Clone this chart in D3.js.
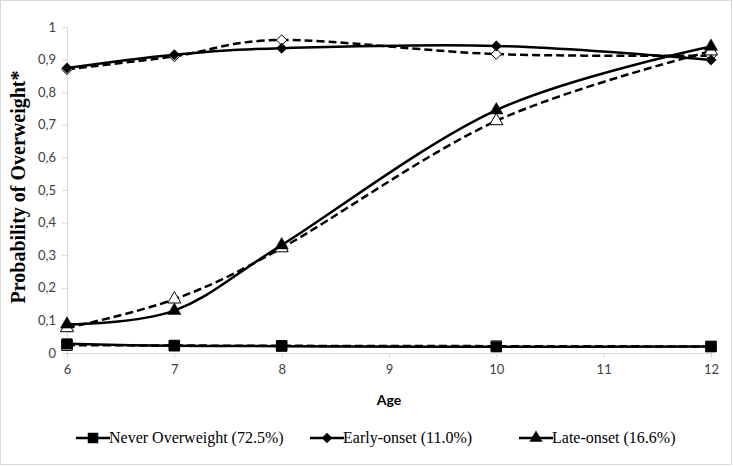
<!DOCTYPE html>
<html lang="en">
<head>
<meta charset="utf-8">
<title>Probability of Overweight</title>
<script src="https://cdn.jsdelivr.net/npm/d3@7"></script>
<style>
  body { margin: 0; background: #fff; }
  .tick text { font-family: Lato, "Liberation Sans", sans-serif; font-size: 13px; fill: #404040; }
  .legend text { font-family: "Liberation Serif", serif; font-size: 16px; fill: #000; }
</style>
</head>
<body>
<svg width="733" height="466"></svg>
<script>
// ages at which the probability was estimated
var ages = [6, 7, 8, 10, 12];

// solid = observed (filled markers), dashed = estimated (open markers)
var neverSolid  = [0.028, 0.022, 0.021, 0.019, 0.020];
var neverDashed = [0.024, 0.023, 0.022, 0.021, 0.020];
var earlySolid  = [0.874, 0.915, 0.935, 0.942, 0.899];
var earlyDashed = [0.870, 0.910, 0.960, 0.917, 0.912];
var lateSolid   = [0.088, 0.130, 0.331, 0.745, 0.940];
var lateDashed  = [0.077, 0.165, 0.322, 0.712, 0.926];

var xTicks = [6, 7, 8, 9, 10, 11, 12];
var yTicks = [0, 0.1, 0.2, 0.3, 0.4, 0.5, 0.6, 0.7, 0.8, 0.9, 1];
var legendLabels = ["Never Overweight (72.5%)", "Early-onset (11.0%)", "Late-onset (16.6%)"];

var svg = d3.select("svg");

svg.append("rect")
  .attr("x", 0.5).attr("y", 0.5)
  .attr("width", 731).attr("height", 464)
  .attr("fill", "#fff").attr("stroke", "#d9d9d9");

var x = d3.scaleLinear().domain([6, 12]).range([67, 711]);
var y = d3.scaleLinear().domain([0, 1]).range([353, 27]);

// axes
svg.append("g")
  .attr("transform", "translate(0," + y(0) + ")")
  .call(d3.axisBottom(x).tickValues(xTicks).tickFormat(d3.format("d")).tickSize(5).tickPadding(7));

var fmt = function(d) { return d === 0 || d === 1 ? String(d) : d3.format(".1f")(d).replace(".", ","); };
svg.append("g")
  .attr("transform", "translate(" + x(6) + ",0)")
  .call(d3.axisLeft(y).tickValues(yTicks).tickFormat(fmt).tickSize(5).tickPadding(6));

svg.selectAll(".domain, .tick line").attr("stroke", "#d9d9d9");

svg.append("text")
  .attr("x", 389).attr("y", 405)
  .attr("text-anchor", "middle")
  .style("font-family", "Lato, 'Liberation Sans', sans-serif")
  .style("font-weight", "bold").style("font-size", "14px")
  .text("Age");

svg.append("text")
  .attr("transform", "translate(25,187) rotate(-90)")
  .attr("text-anchor", "middle")
  .style("font-family", "'Liberation Serif', serif")
  .style("font-weight", "bold").style("font-size", "20px")
  .text("Probability of Overweight*");

// line generator, Excel-like smoothing
var line = d3.line()
  .x(function(d) { return x(d[0]); })
  .y(function(d) { return y(d[1]); })
  .curve(d3.curveCardinal.tension(0));

var sym = {
  square: d3.symbol().type(d3.symbolSquare).size(110),
  diamond: d3.symbol().type(d3.symbolDiamond2).size(70),
  triangle: d3.symbol().type(d3.symbolTriangle).size(75)
};

var series = [
  { vals: earlyDashed, dashed: true,  shape: "diamond" },
  { vals: lateDashed,  dashed: true,  shape: "triangle" },
  { vals: neverDashed, dashed: true,  shape: "square" },
  { vals: earlySolid,  dashed: false, shape: "diamond" },
  { vals: lateSolid,   dashed: false, shape: "triangle" },
  { vals: neverSolid,  dashed: false, shape: "square" }
];

series.forEach(function(s) {
  var pts = ages.map(function(a, i) { return [a, s.vals[i]]; });
  var g = svg.append("g");
  g.append("path")
    .attr("d", line(pts))
    .attr("fill", "none")
    .attr("stroke", "#000")
    .attr("stroke-width", 2.5)
    .attr("stroke-dasharray", s.dashed ? "8,4" : null);
  g.selectAll("path.m")
    .data(pts)
    .enter().append("path")
    .attr("class", "m")
    .attr("d", sym[s.shape])
    .attr("transform", function(d) { return "translate(" + x(d[0]) + "," + y(d[1]) + ")"; })
    .attr("fill", s.dashed ? "#fff" : "#000")
    .attr("stroke", "#000")
    .attr("stroke-width", s.dashed ? 1 : 0.5);
});

// legend
var legendX = [93, 327, 536];
var shapes = ["square", "diamond", "triangle"];
var legend = svg.append("g").attr("class", "legend");
legendLabels.forEach(function(lbl, i) {
  var cx = legendX[i];
  legend.append("line")
    .attr("x1", cx - 17).attr("x2", cx + 17)
    .attr("y1", 438).attr("y2", 438)
    .attr("stroke", "#000").attr("stroke-width", 2.5);
  legend.append("path")
    .attr("d", sym[shapes[i]])
    .attr("transform", "translate(" + cx + ",438)")
    .attr("fill", "#000");
  legend.append("text")
    .attr("x", cx + 16).attr("y", 443)
    .text(lbl);
});
</script>
</body>
</html>
